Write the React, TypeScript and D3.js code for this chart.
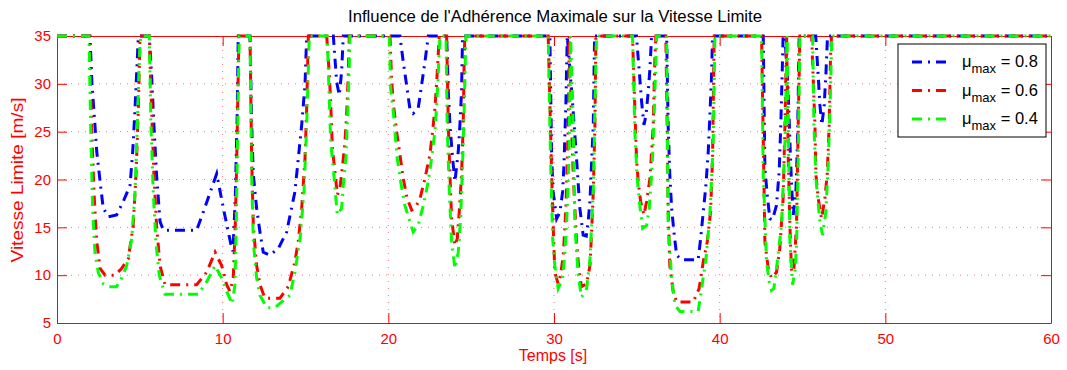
import React, { useEffect, useRef } from 'react';
import * as d3 from 'd3';

// mu_max = 0.8
const blueTime = [0, 1.99, 2.11, 2.29, 2.40, 2.60, 2.79, 3.10, 3.60, 4.00, 4.41, 4.57, 4.71, 4.85, 4.91,
  5.57, 5.71, 5.85, 6.01, 6.22, 6.42, 8.43, 8.83, 9.64, 10.04, 10.50, 10.62, 10.76, 10.88, 10.94,
  11.65, 11.75, 11.85, 12.05, 12.25, 12.45, 12.85, 13.36, 13.86, 14.36, 14.77, 14.97, 15.07,
  16.68, 16.88, 17.04, 17.18, 17.28,
  20.70, 20.90, 21.10, 21.30, 21.50, 21.80, 22.01, 22.21, 22.41,
  23.52, 23.62, 23.72, 23.88, 24.02, 24.22, 24.32, 24.42, 24.48,
  29.75, 29.86, 29.95, 30.16, 30.36, 30.52, 30.60, 30.72, 30.80,
  31.16, 31.36, 31.56, 31.76, 31.95, 32.06, 32.17, 32.30, 32.37, 32.45,
  34.98, 35.08, 35.18, 35.29, 35.43, 35.55, 35.69, 35.79, 35.89,
  36.80, 36.89, 36.99, 37.10, 37.24, 37.40, 37.70, 38.70, 38.85, 39.01, 39.17, 39.31, 39.41, 39.51, 39.57,
  42.63, 42.73, 42.87, 43.03, 43.19, 43.43, 43.59, 43.69, 43.77, 43.83,
  43.94, 44.14, 44.24, 44.34, 44.44, 44.60, 44.70, 44.76, 44.80,
  45.80, 45.88, 45.97, 46.05, 46.17, 46.31, 46.41, 46.51, 60];
const blueSpeed = [35, 35, 30, 25.7, 22.9, 19.8, 17.0, 16.1, 16.3, 17.7, 19.4, 22.9, 27.4, 32.7, 35,
  35, 30.9, 25.7, 20.5, 15.6, 14.7, 14.7, 16.6, 20.6, 17.0, 13.2, 12.5, 18.0, 27.0, 35,
  35, 25.7, 20.5, 17.0, 14.5, 12.4, 12.1, 12.8, 14.5, 18.7, 25.7, 29.9, 35,
  35, 30.2, 28.8, 31.3, 35,
  35, 32.3, 29.9, 27.4, 26.9, 27.4, 29.9, 32.3, 35,
  35, 29.2, 25.7, 22.2, 19.8, 22.9, 25.7, 29.2, 35,
  35, 22.2, 18.7, 15.9, 16.6, 18.7, 21.5, 28.1, 35,
  27.1, 22.2, 17.0, 14.2, 14.1, 15.6, 17.7, 23.0, 25.7, 35,
  35, 32.7, 30.6, 28.1, 25.7, 26.7, 29.2, 31.6, 35,
  35, 25.7, 20.5, 17.0, 14.5, 12.1, 11.6, 11.6, 13.8, 16.6, 19.4, 22.9, 26.7, 30.9, 35,
  35, 21.2, 18.4, 15.9, 15.8, 17.3, 20.8, 25.7, 30.9, 35,
  35, 29.2, 23.9, 19.4, 16.3, 18.7, 23.9, 30.9, 35,
  35, 32.7, 30.2, 27.8, 25.7, 27.8, 30.9, 35, 35];

// mu_max = 0.6
const redTime = [0, 1.95, 2.09, 2.23, 2.40, 2.60, 2.90, 3.50, 3.90, 4.30, 4.60, 4.77, 4.91, 5.01,
  5.57, 5.71, 5.85, 6.01, 6.22, 6.52, 8.43, 9.03, 9.54, 9.94, 10.24, 10.44, 10.64, 10.76, 10.85, 10.92, 10.98,
  11.65, 11.75, 11.85, 12.05, 12.25, 12.55, 13.46, 13.96, 14.36, 14.56, 14.77, 14.97, 15.07, 15.17,
  16.28, 16.44, 16.52, 16.62, 16.78, 16.92, 17.08, 17.24, 17.38, 17.48, 17.58, 17.64,
  20.10, 20.20, 20.34, 20.50, 20.70, 20.90, 21.14, 21.41, 21.61, 21.91, 22.21, 22.51, 22.67, 22.81, 22.92, 23.01, 23.07,
  23.52, 23.62, 23.72, 23.82, 24.02, 24.16, 24.28, 24.42, 24.52, 24.58, 24.62,
  29.65, 29.86, 29.95, 30.05, 30.25, 30.40, 30.56, 30.72, 30.86, 30.92,
  31.06, 31.16, 31.26, 31.36, 31.52, 31.66, 31.97, 32.17, 32.27, 32.37, 32.47, 32.53,
  34.74, 34.88, 34.98, 35.08, 35.23, 35.43, 35.59, 35.79, 35.89, 35.99, 36.09, 36.15,
  36.75, 36.83, 36.89, 36.99, 37.19, 37.40, 38.40, 38.76, 39.01, 39.25, 39.45, 39.57, 39.65, 39.67,
  42.53, 42.73, 42.93, 43.13, 43.43, 43.63, 43.83, 43.94, 44.04,
  44.14, 44.24, 44.34, 44.48, 44.64, 44.74, 44.84,
  45.55, 45.75, 45.81, 45.95, 46.15, 46.35, 46.49, 46.61, 46.69, 46.75, 60];
const redSpeed = [35, 35, 25.7, 18.7, 13.5, 10.7, 10.0, 10.0, 10.7, 11.7, 15.2, 20.5, 27.4, 35,
  35, 27.4, 20.5, 15.2, 11.0, 9.0, 9.0, 10.3, 12.4, 11.0, 9.0, 8.3, 9.7, 15.2, 22.2, 29.2, 35,
  35, 22.2, 15.2, 11.0, 9.0, 7.6, 7.6, 8.8, 11.4, 13.5, 17.0, 22.2, 27.4, 35,
  35, 30.9, 28.1, 23.3, 20.8, 18.4, 19.1, 21.5, 23.9, 26.7, 30.9, 35,
  35, 30.2, 27.4, 25.0, 22.6, 20.1, 18.0, 16.8, 17.0, 18.0, 20.1, 22.6, 25.0, 27.4, 30.2, 33.0, 35,
  35, 25.7, 20.5, 15.9, 13.1, 13.8, 16.6, 20.5, 25.7, 32.7, 35,
  35, 20.5, 15.2, 10.3, 9.1, 10.0, 12.1, 17.0, 25.7, 35,
  25.7, 20.5, 17.0, 13.5, 10.3, 8.8, 9.1, 11.0, 14.5, 18.7, 25.7, 35,
  35, 27.4, 22.2, 19.8, 17.7, 16.3, 17.7, 20.1, 22.9, 25.7, 32.7, 35,
  35, 25.7, 17.0, 11.0, 8.3, 7.2, 7.2, 8.6, 11.4, 13.5, 16.6, 22.2, 32.7, 35,
  35, 13.5, 10.7, 9.7, 10.3, 12.8, 18.0, 25.7, 35,
  22.2, 15.2, 10.3, 10.7, 15.2, 25.7, 35,
  35, 25.7, 20.5, 18.0, 15.9, 18.0, 20.5, 25.7, 32.7, 35, 35];

// mu_max = 0.4
const greenTime = [0, 1.93, 2.03, 2.15, 2.29, 2.49, 2.79, 3.10, 3.60, 3.90, 4.21, 4.51, 4.71, 4.85, 4.97, 5.05,
  5.57, 5.67, 5.81, 5.97, 6.17, 6.52, 8.53, 9.03, 9.54, 9.94, 10.24, 10.58, 10.74, 10.82, 10.88, 10.94, 11.00,
  11.65, 11.75, 11.85, 12.05, 12.25, 12.66, 13.16, 13.56, 14.06, 14.36, 14.67, 14.91, 15.07, 15.23,
  16.31, 16.42, 16.52, 16.68, 16.78, 16.92, 17.18, 17.28, 17.44, 17.54, 17.64, 17.68,
  20.05, 20.14, 20.30, 20.40, 20.54, 20.74, 21.00, 21.30, 21.50, 21.80, 22.11, 22.41, 22.61, 22.81, 22.92, 23.01, 23.11,
  23.48, 23.55, 23.68, 23.82, 24.02, 24.22, 24.36, 24.48, 24.58, 24.68,
  29.65, 29.79, 29.92, 30.05, 30.25, 30.52, 30.66, 30.80, 30.92, 31.00,
  31.16, 31.26, 31.46, 31.66, 31.97, 32.17, 32.37, 32.53, 32.57,
  34.74, 34.88, 35.02, 35.18, 35.35, 35.59, 35.75, 35.89, 35.99, 36.09, 36.19,
  36.80, 36.89, 37.10, 37.30, 37.60, 38.70, 38.91, 39.17, 39.41, 39.61, 39.71,
  42.53, 42.63, 42.83, 42.99, 43.13, 43.27, 43.43, 43.73, 43.94, 44.07,
  44.24, 44.40, 44.54, 44.64, 44.74, 44.84,
  45.61, 45.69, 45.81, 46.05, 46.21, 46.41, 46.55, 46.69, 46.77, 60];
const greenSpeed = [35, 35, 25.7, 17.0, 12.4, 10.3, 9.1, 8.8, 8.8, 9.7, 11.0, 13.8, 18.7, 25.7, 32.7, 35,
  35, 25.7, 18.7, 13.5, 10.0, 8.0, 8.0, 9.3, 11.0, 9.7, 8.3, 7.0, 9.0, 15.2, 22.2, 29.2, 35,
  35, 20.5, 13.5, 9.7, 7.9, 6.6, 6.6, 7.2, 7.9, 10.3, 13.8, 18.7, 25.7, 35,
  35, 29.2, 23.9, 21.2, 19.1, 16.3, 17.0, 19.4, 22.2, 26.7, 31.6, 35,
  35, 29.5, 27.1, 25.0, 22.2, 19.8, 17.3, 15.6, 14.5, 15.2, 17.3, 19.8, 22.2, 25.0, 27.8, 30.9, 35,
  35, 25.7, 18.7, 13.5, 10.7, 12.4, 15.9, 21.5, 27.4, 35,
  35, 22.2, 13.8, 11.0, 8.6, 9.7, 12.4, 17.0, 23.9, 35,
  25.7, 15.2, 10.0, 7.7, 8.6, 11.7, 18.7, 32.7, 35,
  35, 25.0, 20.1, 17.3, 14.9, 15.2, 17.0, 20.5, 23.9, 29.2, 35,
  35, 15.2, 9.7, 6.9, 6.2, 6.2, 8.6, 11.7, 16.3, 23.9, 35,
  35, 20.5, 11.4, 9.3, 8.4, 8.6, 10.7, 15.2, 23.9, 35,
  13.5, 9.0, 10.3, 13.1, 22.2, 35,
  35, 25.7, 20.1, 15.6, 14.2, 16.6, 21.5, 29.2, 35, 35];

const muLabels = ['0.8', '0.6', '0.4'];
const xTicks = [0, 10, 20, 30, 40, 50, 60];
const yTicks = [5, 10, 15, 20, 25, 30, 35];

const series = [
  { time: blueTime, speed: blueSpeed, color: '#0000ff', mu: muLabels[0] },
  { time: redTime, speed: redSpeed, color: '#ff0000', mu: muLabels[1] },
  { time: greenTime, speed: greenSpeed, color: '#00ff00', mu: muLabels[2] },
];

export default function App() {
  const ref = useRef<SVGSVGElement>(null);

  useEffect(() => {
    document.body.style.margin = '0';
    const width = 1067, height = 370;
    const left = 57, right = 1051, top = 36, bottom = 323;
    const font = '"Liberation Sans", Arial, Helvetica, sans-serif';
    const dash = '10,6,2,6';

    const svg = d3.select(ref.current);
    svg.selectAll('*').remove();
    svg.append('rect').attr('width', width).attr('height', height).attr('fill', '#fff');

    const x = d3.scaleLinear().domain([0, 60]).range([left, right]);
    const y = d3.scaleLinear().domain([5, 35]).range([bottom, top]);

    // dotted grid
    const grid = svg.append('g').attr('stroke', '#ff0000').attr('stroke-opacity', 0.55)
      .attr('stroke-width', 1).attr('stroke-dasharray', '1,6');
    xTicks.slice(1, -1).forEach(t => {
      grid.append('line').attr('x1', x(t)).attr('x2', x(t)).attr('y1', top).attr('y2', bottom);
    });
    yTicks.slice(1, -1).forEach(t => {
      grid.append('line').attr('x1', left).attr('x2', right).attr('y1', y(t)).attr('y2', y(t));
    });

    // axes, ticks inward like matlab
    const styleAxis = (g: any) => {
      g.select('.domain').attr('stroke', '#ff0000');
      g.selectAll('.tick line').attr('stroke', '#ff0000');
      g.selectAll('.tick text').attr('fill', '#ff0000').attr('font-family', font).attr('font-size', 15);
    };
    svg.append('g').attr('transform', `translate(0,${bottom})`)
      .call(d3.axisBottom(x).tickValues(xTicks).tickSizeInner(-10).tickSizeOuter(0).tickPadding(10))
      .call(styleAxis);
    svg.append('g').attr('transform', `translate(0,${top})`)
      .call(d3.axisTop(x).tickValues(xTicks).tickSizeInner(-10).tickSizeOuter(0).tickFormat(() => ''))
      .call(styleAxis);
    svg.append('g').attr('transform', `translate(${left},0)`)
      .call(d3.axisLeft(y).tickValues(yTicks).tickSizeInner(-10).tickSizeOuter(0).tickPadding(6))
      .call(styleAxis);
    svg.append('g').attr('transform', `translate(${right},0)`)
      .call(d3.axisRight(y).tickValues(yTicks).tickSizeInner(-10).tickSizeOuter(0).tickFormat(() => ''))
      .call(styleAxis);

    // curves
    const line = d3.line<[number, number]>()
      .x(d => x(d[0]))
      .y(d => y(d[1]));
    series.forEach(s => {
      const pts = s.time.map((t, i) => [t, s.speed[i]] as [number, number]);
      svg.append('path')
        .datum(pts)
        .attr('d', line)
        .attr('fill', 'none')
        .attr('stroke', s.color)
        .attr('stroke-width', 3)
        .attr('stroke-dasharray', dash);
    });

    // title and labels
    svg.append('text').attr('x', 555).attr('y', 22)
      .attr('text-anchor', 'middle').attr('font-family', font).attr('font-size', 16)
      .attr('textLength', 414).attr('lengthAdjust', 'spacingAndGlyphs')
      .attr('fill', '#000').text("Influence de l'Adhérence Maximale sur la Vitesse Limite");
    svg.append('text').attr('x', 553).attr('y', 361)
      .attr('text-anchor', 'middle').attr('font-family', font).attr('font-size', 16)
      .attr('fill', '#ff0000').text('Temps [s]');
    svg.append('text').attr('transform', `translate(23,180) rotate(-90)`)
      .attr('text-anchor', 'middle').attr('font-family', font).attr('font-size', 16)
      .attr('textLength', 165).attr('lengthAdjust', 'spacingAndGlyphs')
      .attr('fill', '#ff0000').text('Vitesse Limite [m/s]');

    // legend
    const lg = svg.append('g').attr('transform', 'translate(898,44)');
    lg.append('rect').attr('width', 148).attr('height', 93)
      .attr('fill', '#fff').attr('stroke', '#000').attr('stroke-width', 1);
    series.forEach((s, i) => {
      const cy = 18 + i * 28.5;
      lg.append('line').attr('x1', 10).attr('x2', 54).attr('y1', cy).attr('y2', cy)
        .attr('stroke', s.color).attr('stroke-width', 3).attr('stroke-dasharray', dash)
        .attr('stroke-dashoffset', -4);
      const t = lg.append('text').attr('x', 64).attr('y', cy + 5)
        .attr('font-family', font).attr('font-size', 16.5).attr('fill', '#000');
      t.append('tspan').text('μ');
      t.append('tspan').attr('font-size', 13).attr('dy', 6).text('max');
      t.append('tspan').attr('dy', -6).text(` = ${s.mu}`);
    });
  }, []);

  return <svg ref={ref} width={1067} height={370} style={{ display: 'block' }} />;
}
